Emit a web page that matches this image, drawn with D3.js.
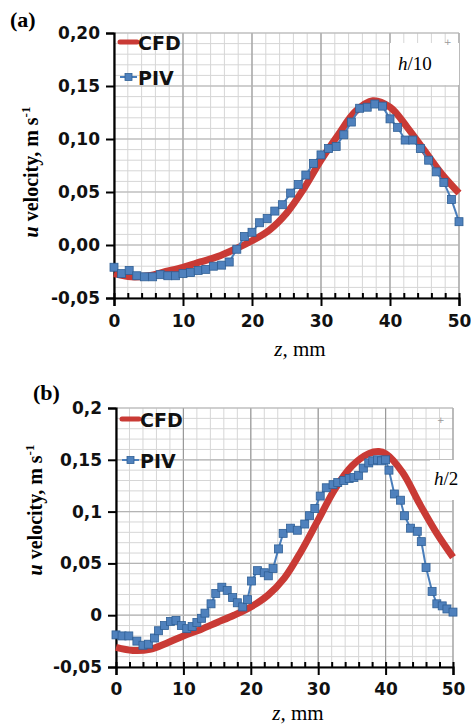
<!DOCTYPE html>
<html>
<head>
<meta charset="utf-8">
<script src="https://cdn.jsdelivr.net/npm/d3@7"></script>
<style>
  body { margin: 0; background: #fff; }
  svg { display: block; }
</style>
</head>
<body>
<svg id="chart" width="471" height="725"></svg>
<script>
// panel (a), h/10
const pivZA = [0,1.1,2.2,3.3,4.4,5.6,6.7,7.8,8.9,10,11.1,12.2,13.3,14.4,15.6,16.7,17.8,18.9,20,21.1,22.2,23.3,24.4,25.6,26.7,27.8,28.9,30,31.1,32.2,33.3,34.4,35.6,36.7,37.8,38.9,40,41.1,42.2,43.3,44.4,45.6,46.7,47.8,48.9,50];
const pivVA = [-0.021,-0.027,-0.024,-0.029,-0.030,-0.030,-0.028,-0.029,-0.029,-0.027,-0.026,-0.024,-0.023,-0.020,-0.019,-0.016,-0.004,0.008,0.012,0.021,0.025,0.032,0.038,0.049,0.057,0.066,0.077,0.085,0.091,0.093,0.104,0.116,0.129,0.130,0.133,0.131,0.119,0.111,0.099,0.099,0.091,0.080,0.069,0.059,0.043,0.022];
const cfdZA = [0,2.5,5,7.5,10,12.5,15,17.5,20,22.5,25,27.5,30,32.5,35,37.5,40,42.5,45,47.5,50];
const cfdVA = [-0.027,-0.030,-0.029,-0.025,-0.021,-0.016,-0.011,-0.004,0.004,0.014,0.030,0.053,0.080,0.104,0.126,0.136,0.130,0.111,0.089,0.067,0.049];
const yTicksA = [-0.05,0,0.05,0.10,0.15,0.20];
const yLabelsA = ['-0,05','0,00','0,05','0,10','0,15','0,20'];

// panel (b), h/2
const pivZB = [0,0.9,1.9,3.1,4.0,4.8,5.7,6.3,7.2,8.1,8.9,9.7,10.5,11.3,12.0,12.7,13.2,14.1,14.8,15.7,16.5,17.3,18.0,18.8,19.5,20.1,21.0,22.0,22.6,23.3,24.1,24.8,25.9,26.9,28.0,28.7,29.5,30.3,31.2,32.2,32.9,33.8,34.6,35.3,36.0,36.7,37.5,38.1,38.8,39.4,40.0,40.5,41.3,42.2,42.8,43.7,44.7,45.3,46.0,46.9,47.6,48.4,49.1,50.0];
const pivVB = [-0.019,-0.020,-0.020,-0.025,-0.029,-0.028,-0.022,-0.015,-0.010,-0.006,-0.005,-0.010,-0.013,-0.011,-0.007,-0.003,0.002,0.011,0.021,0.027,0.024,0.017,0.012,0.008,0.015,0.033,0.043,0.041,0.038,0.045,0.064,0.079,0.084,0.082,0.088,0.096,0.103,0.115,0.123,0.126,0.128,0.130,0.132,0.133,0.135,0.142,0.147,0.149,0.150,0.149,0.150,0.140,0.117,0.111,0.096,0.084,0.081,0.071,0.046,0.023,0.011,0.009,0.006,0.003];
const cfdZB = [0,2.5,5,7.5,10,12.5,15,17.5,20,22.5,25,27.5,30,32.5,35,37.5,39,40,42.5,45,47.5,50];
const cfdVB = [-0.031,-0.034,-0.033,-0.027,-0.020,-0.014,-0.007,0.000,0.008,0.019,0.036,0.062,0.092,0.122,0.144,0.156,0.158,0.156,0.138,0.108,0.080,0.056];
const yTicksB = [-0.05,0,0.05,0.1,0.15,0.2];
const yLabelsB = ['-0,05','0','0,05','0,1','0,15','0,2'];

const xTicks = [0,10,20,30,40,50];
const seriesNames = ['CFD','PIV'];

const cfdCol = '#c93a35';
const pivCol = '#4f81bd';
const pivLine = '#4a7ebb';
const serif = '"Liberation Serif", "Times New Roman", serif';
const sans = '"DejaVu Sans", sans-serif';

const svg = d3.select('#chart');

function drawPanel(p) {
  const x = d3.scaleLinear().domain([0, 50]).range([p.left, p.right]);
  const y = d3.scaleLinear().domain([-0.05, 0.2]).range([p.bottom, p.top]);
  const g = svg.append('g');

  // grid: minor every 2 mm / 0.01, major every 10 mm / 0.05
  const minX = d3.range(0, 51, 2), minY = d3.range(-0.05, 0.2001, 0.01);
  g.selectAll('.mx').data(minX).enter().append('line')
    .attr('x1', d => x(d)).attr('x2', d => x(d)).attr('y1', p.top).attr('y2', p.bottom)
    .style('stroke', '#d6d6d6').style('stroke-width', 1);
  g.selectAll('.my').data(minY).enter().append('line')
    .attr('x1', p.left).attr('x2', p.right).attr('y1', d => y(d)).attr('y2', d => y(d))
    .style('stroke', '#d6d6d6').style('stroke-width', 1);
  g.selectAll('.Mx').data(xTicks).enter().append('line')
    .attr('x1', d => x(d)).attr('x2', d => x(d)).attr('y1', p.top).attr('y2', p.bottom)
    .style('stroke', '#9a9a9a').style('stroke-width', 1.2);
  g.selectAll('.My').data(p.yTicks).enter().append('line')
    .attr('x1', p.left).attr('x2', p.right).attr('y1', d => y(d)).attr('y2', d => y(d))
    .style('stroke', '#b4b4b4').style('stroke-width', 1.2);

  // label box
  g.append('rect').attr('x', p.boxX).attr('y', p.boxY).attr('width', p.boxW).attr('height', p.boxH).style('fill', '#fff');
  g.append('text').attr('x', p.lblX).attr('y', p.lblY).style('font-family', serif).style('font-size', '19px')
    .html(`<tspan font-style="italic">h</tspan>/${p.lbl}`);
  g.append('text').attr('x', p.plusX).attr('y', p.plusY).style('font-family', sans).style('font-size', '9px')
    .style('fill', '#999').text('+');

  // axes
  const yAxis = d3.axisLeft(y).tickValues(p.yTicks).tickSize(8).tickFormat((d, i) => p.yLabels[i]);
  const ya = g.append('g').attr('transform', `translate(${p.left},0)`).call(yAxis);
  ya.select('.domain').style('stroke', '#000').style('stroke-width', 2.2);
  ya.selectAll('line').style('stroke', '#000').style('stroke-width', 2);
  ya.selectAll('text').style('font-family', sans).style('font-weight', 'bold').style('font-size', '17px')
    .style('fill', '#111').attr('x', -14);

  const xMinor = g.append('g').attr('transform', `translate(0,${p.bottom})`)
    .call(d3.axisTop(x).tickValues(d3.range(0, 51, 2)).tickSize(5).tickFormat(''));
  xMinor.select('.domain').remove();
  xMinor.selectAll('line').style('stroke', '#000').style('stroke-width', 2);
  const xa = g.append('g').attr('transform', `translate(0,${p.bottom})`)
    .call(d3.axisBottom(x).tickValues(xTicks).tickSize(8));
  xa.select('.domain').style('stroke', '#000').style('stroke-width', 2.2);
  xa.selectAll('line').style('stroke', '#000').style('stroke-width', 2);
  xa.selectAll('text').style('font-family', sans).style('font-weight', 'bold').style('font-size', '17px')
    .style('fill', '#111').attr('y', p.xLabOff);

  // series
  const cfd = p.cfdZ.map((z, i) => ({z, v: p.cfdV[i]}));
  const piv = p.pivZ.map((z, i) => ({z, v: p.pivV[i]}));
  g.append('path').datum(cfd)
    .attr('d', d3.line().x(d => x(d.z)).y(d => y(d.v)).curve(d3.curveCatmullRom))
    .style('fill', 'none').style('stroke', cfdCol).style('stroke-width', 7).style('stroke-linecap', 'butt');
  g.append('path').datum(piv)
    .attr('d', d3.line().x(d => x(d.z)).y(d => y(d.v)))
    .style('fill', 'none').style('stroke', pivLine).style('stroke-width', 2);
  g.selectAll('.pt').data(piv).enter().append('rect')
    .attr('x', d => x(d.z) - 4).attr('y', d => y(d.v) - 4).attr('width', 8).attr('height', 8)
    .style('fill', pivCol).style('stroke', '#2f5f95').style('stroke-width', 0.8);

  // legend
  const lg = g.append('g');
  lg.append('line').attr('x1', p.left + 6).attr('x2', p.left + 23).attr('y1', p.legY[0]).attr('y2', p.legY[0])
    .style('stroke', cfdCol).style('stroke-width', 5).style('stroke-linecap', 'round');
  lg.append('line').attr('x1', p.left + 6).attr('x2', p.left + 23).attr('y1', p.legY[1]).attr('y2', p.legY[1])
    .style('stroke', pivLine).style('stroke-width', 2);
  lg.append('rect').attr('x', p.left + 11).attr('y', p.legY[1] - 3.5).attr('width', 7).attr('height', 7)
    .style('fill', pivCol).style('stroke', '#2f5f95').style('stroke-width', 0.8);
  lg.selectAll('.lt').data(seriesNames).enter().append('text')
    .attr('x', p.left + 24).attr('y', (d, i) => p.legY[i] + 7.5)
    .style('font-family', sans).style('font-weight', 'bold').style('font-size', '19px').style('fill', '#111')
    .text(d => d);

  // titles
  g.append('text').attr('x', p.tagX).attr('y', p.tagY).style('font-family', serif).style('font-weight', 'bold')
    .style('font-size', '22px').text(p.tag);
  g.append('text').attr('transform', `translate(${p.yTitleX},${p.yTitleY}) rotate(-90)`).attr('text-anchor', 'middle')
    .style('font-family', serif).style('font-weight', 'bold').style('font-size', '20px')
    .html('<tspan font-style="italic">u</tspan> velocity, m s<tspan font-size="13px" dy="-8">-1</tspan>');
  g.append('text').attr('x', p.xTitleX).attr('y', p.xTitleY).attr('text-anchor', 'middle')
    .style('font-family', serif).style('font-size', '21px')
    .html('<tspan font-style="italic">z,</tspan> mm');
}

drawPanel({
  left: 114, right: 459, top: 33, bottom: 298,
  yTicks: yTicksA, yLabels: yLabelsA, xLabOff: 17,
  cfdZ: cfdZA, cfdV: cfdVA, pivZ: pivZA, pivV: pivVA,
  legY: [42, 77], tag: '(a)', tagX: 10, tagY: 27,
  yTitleX: 38, yTitleY: 172, xTitleX: 300, xTitleY: 356,
  boxX: 390, boxY: 43, boxW: 69, boxH: 42, lbl: '10', lblX: 398, lblY: 70,
  plusX: 444, plusY: 45
});
drawPanel({
  left: 116, right: 453, top: 408, bottom: 667,
  yTicks: yTicksB, yLabels: yLabelsB, xLabOff: 16,
  cfdZ: cfdZB, cfdV: cfdVB, pivZ: pivZB, pivV: pivVB,
  legY: [419, 460], tag: '(b)', tagX: 33, tagY: 400,
  yTitleX: 42, yTitleY: 510, xTitleX: 298, xTitleY: 720,
  boxX: 430, boxY: 460, boxW: 41, boxH: 40, lbl: '2', lblX: 434, lblY: 485,
  plusX: 437, plusY: 423
});
</script>
</body>
</html>
